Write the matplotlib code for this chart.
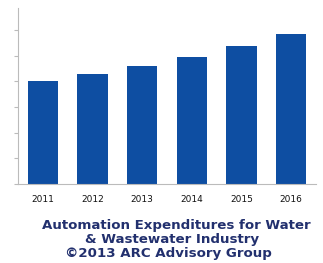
import matplotlib
matplotlib.use("Agg")
import matplotlib.pyplot as plt

years = ["2011", "2012", "2013", "2014", "2015", "2016"]
values = [4.0, 4.28, 4.59, 4.94, 5.37, 5.84]
yticks = [0, 1, 2, 3, 4, 5, 6]
title_lines = ["Automation Expenditures for Water",
               "& Wastewater Industry",
               "\u00a92013 ARC Advisory Group"]

W, H = 323, 263
fig = plt.figure(figsize=(W/100, H/100), dpi=100)
ax = fig.add_axes([18/W, 1-184/H, (316-18)/W, (184-8)/H])
x = range(len(years))
ax.bar(x, values, width=0.61, color="#0E4EA2")
ax.set_xlim(-0.5, len(years)-0.5)
ax.set_ylim(0, 6.85)
ax.set_yticks(yticks)
ax.set_yticklabels([])
ax.set_xticks(list(x))
ax.set_xticklabels(years, fontsize=6.5, color="#111111")
ax.tick_params(axis="x", length=0, pad=8)
ax.tick_params(axis="y", length=3, color="#bbbbbb", width=0.8)
for s in ["top", "right"]:
    ax.spines[s].set_visible(False)
for s in ["left", "bottom"]:
    ax.spines[s].set_color("#bbbbbb")
    ax.spines[s].set_linewidth(0.8)

ys = [225, 240, 254]
xs = [176, 172, 168]
for t, xx, y in zip(title_lines, xs, ys):
    fig.text(xx/W, 1-y/H, t, ha="center", va="center", fontsize=9.6,
             fontweight="bold", color="#22306E", family="DejaVu Sans")

fig.savefig("out.png", dpi=100)
